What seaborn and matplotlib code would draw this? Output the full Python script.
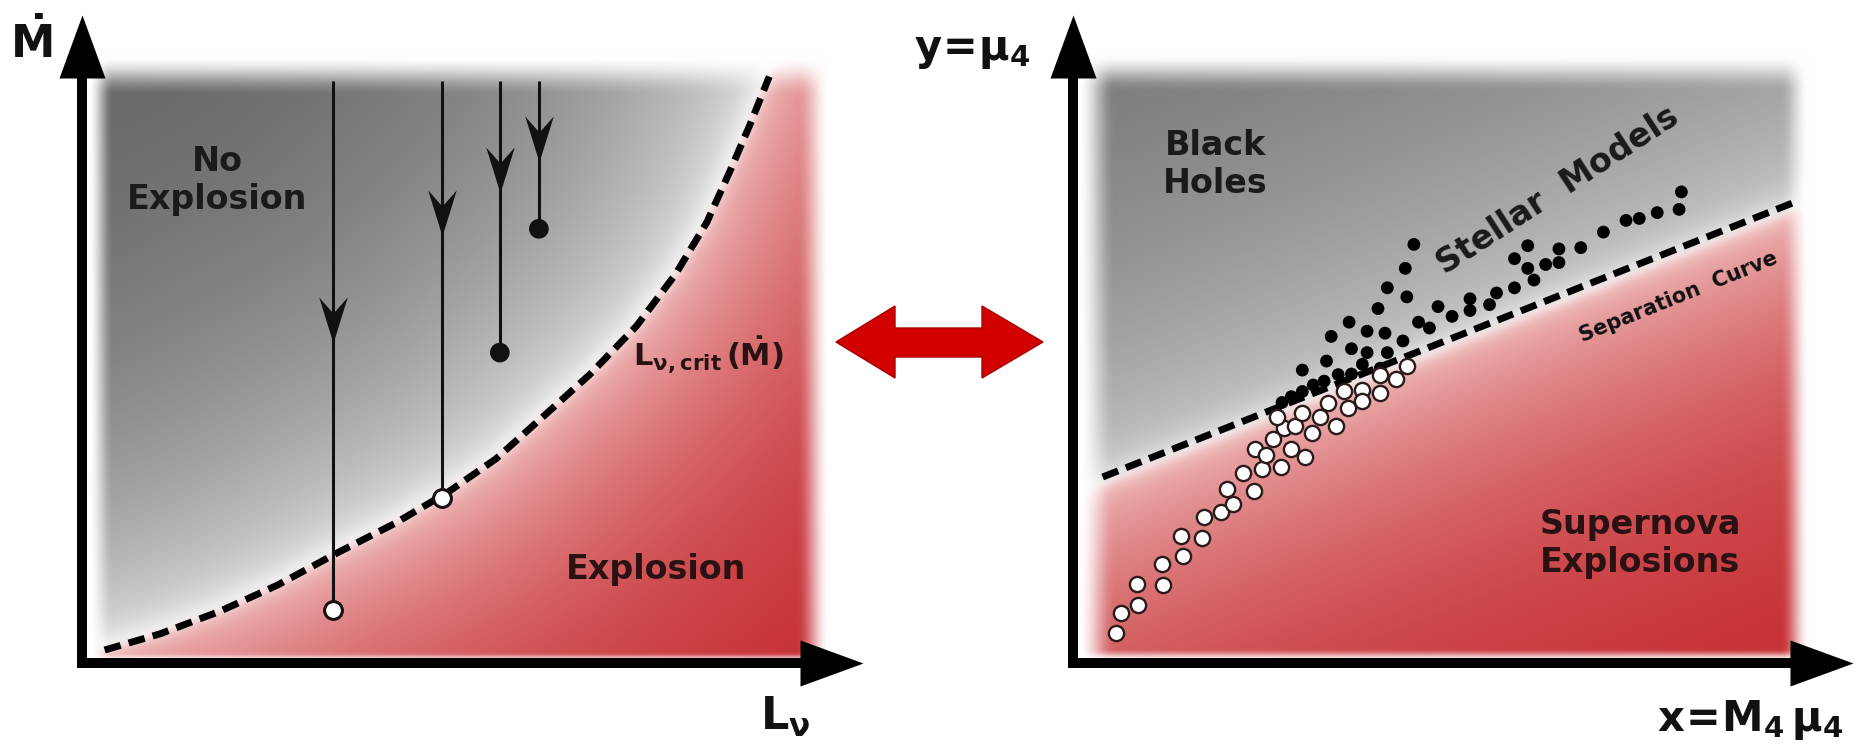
import numpy as np
import matplotlib
matplotlib.use("Agg")
import matplotlib.pyplot as plt
from matplotlib.path import Path
from matplotlib.markers import MarkerStyle
from matplotlib.patches import Polygon
import seaborn as sns

# ---------------- data ----------------
# left panel: critical neutrino luminosity curve L_crit(Mdot)
crit_L = [0.29, 1.00, 1.77, 2.50, 3.27, 4.00, 4.69, 5.30, 5.93, 6.50, 7.10, 7.60, 8.00, 8.30, 8.55, 8.80]
crit_Mdot = [0.20, 0.45, 0.80, 1.20, 1.70, 2.15, 2.64, 3.15, 3.83, 4.45, 5.20, 6.00, 6.80, 7.60, 8.30, 9.05]

# accretion tracks: luminosity, start / end Mdot, arrow tip, outcome
track_L = [3.22, 4.61, 5.35, 5.85]
track_start = [8.98, 8.98, 8.98, 8.98]
track_end = [0.82, 2.55, 4.79, 6.70]
track_arrow = [4.94, 6.59, 7.25, 7.73]
track_exploded = [True, True, False, False]

# right panel: separation line in the (x, y) = (M4 mu4, mu4) plane
sep_x = [0.38, 9.29]
sep_y = [2.87, 7.13]

# stellar models that form black holes
bh_x = [4.37, 4.26, 4.03, 4.28, 3.91, 3.54, 3.31, 3.77, 4.00, 3.57, 3.25, 2.94, 3.77, 4.03,
        4.23, 4.43, 4.68, 4.57, 4.86, 5.09, 5.09, 5.34, 5.43, 5.66, 5.66, 5.83, 5.91, 6.06,
        6.23, 6.23, 6.51, 6.80, 7.09, 7.26, 7.49, 7.77, 7.80, 5.83, 2.80, 2.94, 3.08, 3.22,
        3.40, 3.71, 3.57, 2.68, 3.94]
bh_y = [6.46, 6.09, 5.79, 5.65, 5.47, 5.26, 5.04, 5.12, 5.09, 4.85, 4.66, 4.52, 4.79, 4.79,
        4.97, 5.26, 5.50, 5.17, 5.35, 5.62, 5.44, 5.53, 5.71, 5.79, 6.24, 6.44, 5.91, 6.15,
        6.18, 6.39, 6.41, 6.65, 6.83, 6.86, 6.95, 7.00, 7.27, 6.09, 4.11, 4.19, 4.29, 4.35,
        4.45, 4.61, 4.46, 4.02, 4.55]

# stellar models that explode
sn_x = [0.55, 0.62, 0.83, 0.82, 1.16, 1.14, 1.41, 1.39, 1.65, 1.68, 1.90, 2.05, 1.98, 2.32,
        2.18, 2.42, 2.67, 2.33, 2.48, 2.80, 2.98, 2.57, 2.71, 2.85, 3.07, 3.17, 3.37, 2.94,
        3.27, 3.53, 3.48, 3.71, 3.94, 3.94, 4.14, 4.28, 2.62, 3.71]
sn_y = [0.47, 0.77, 0.89, 1.22, 1.20, 1.53, 1.65, 1.96, 1.93, 2.26, 2.33, 2.46, 2.69, 2.66,
        2.93, 2.99, 3.02, 3.31, 3.21, 3.31, 3.18, 3.46, 3.62, 3.66, 3.55, 3.79, 3.66, 3.86,
        4.02, 3.93, 4.20, 4.21, 4.17, 4.44, 4.38, 4.58, 3.79, 4.05]

# ---------------- layout (figure pixels) ----------------
W, H = 1858, 747
PANEL_TOP, PANEL_BOTTOM = 15, 663
LEFT_X0, LEFT_X1 = 82, 863
RIGHT_X0, RIGHT_X1 = 1073, 1853

sns.set_style("white")
plt.rcParams["font.family"] = ["DejaVu Sans"]
plt.rcParams["mathtext.fontset"] = "dejavusans"

fig = plt.figure(figsize=(W / 100, H / 100), dpi=100)


def panel(x0, x1):
    ax = fig.add_axes([x0 / W, (H - PANEL_BOTTOM) / H, (x1 - x0) / W,
                       (PANEL_BOTTOM - PANEL_TOP) / H])
    ax.set_axis_off()
    return ax


axL = panel(LEFT_X0, LEFT_X1)
axR = panel(RIGHT_X0, RIGHT_X1)


# ---------------- soft background shading ----------------
def smooth(t):
    t = np.clip(t, 0, 1)
    return t * t * (3 - 2 * t)


def dense_polyline(xs, ys, sx, sy, step=3.0):
    px, py = np.asarray(xs) * sx, np.asarray(ys) * sy
    ox, oy = [], []
    for i in range(len(px) - 1):
        n = max(2, int(np.hypot(px[i + 1] - px[i], py[i + 1] - py[i]) / step))
        t = np.linspace(0, 1, n, endpoint=False)
        ox.append(px[i] + t * (px[i + 1] - px[i]))
        oy.append(py[i] + t * (py[i + 1] - py[i]))
    ox.append([px[-1]])
    oy.append([py[-1]])
    return np.concatenate(ox), np.concatenate(oy)


def blur(img, sigma):
    r = int(3 * sigma) + 1
    k = np.exp(-0.5 * (np.arange(-r, r + 1) / sigma) ** 2)
    k /= k.sum()
    pad = np.pad(img, ((r, r), (r, r), (0, 0)), mode="edge")
    ny, nx = img.shape[:2]
    tmp = sum(k[i] * pad[:, i:i + nx] for i in range(len(k)))
    return sum(k[i] * tmp[i:i + ny] for i in range(len(k)))


def shading(ax, bx, by, sx, sy, g_far, g_near, g_len, r_len, env_box):
    nx, ny = 320, 260
    X, Y = np.meshgrid(np.linspace(0, 10, nx), np.linspace(0, 10, ny))
    PX, PY = X * sx, Y * sy
    qx, qy = dense_polyline(bx, by, sx, sy)
    d2 = np.full(PX.shape, np.inf)
    for a, b in zip(qx, qy):
        d2 = np.minimum(d2, (PX - a) ** 2 + (PY - b) ** 2)
    d = np.sqrt(d2)
    above = Y > np.interp(X, bx, by)

    g = g_far + (g_near - g_far) * np.exp(-d / g_len)
    g = g + (1 - g) * 0.95 * np.exp(-d / 12.0)
    gray = np.stack([g, g, g], axis=-1)

    t = (1 - np.exp(-d / r_len))[..., None]
    pink = np.array([0.93, 0.70, 0.70])
    deep = np.array([0.76, 0.13, 0.15])
    red = pink + (deep - pink) * t
    red = red + (1 - red) * 0.5 * np.exp(-d / 6.0)[..., None]

    rgb = np.where(above[..., None], gray, red)
    rgb = blur(rgb, 1.6)

    x0, w0, x1, w1, y1, wy1, y0, wy0 = env_box
    env = (smooth((PX - x0) / w0) * smooth((x1 - PX) / w1)
           * smooth((y1 - PY) / wy1) * smooth((PY - y0) / wy0))
    rgb = 1 - env[..., None] * (1 - rgb)
    ax.imshow(np.clip(rgb, 0, 1), extent=(0, 10, 0, 10), origin="lower",
              aspect="auto", interpolation="bilinear", zorder=0)


sxL = (LEFT_X1 - LEFT_X0) / 10
sxR = (RIGHT_X1 - RIGHT_X0) / 10
sy = (PANEL_BOTTOM - PANEL_TOP) / 10

# left: boundary follows the critical curve, extended past the frame
bxL = [-1.0] + crit_L + [9.6]
byL = [-0.15] + crit_Mdot + [13.0]
shading(axL, bxL, byL, sxL, sy, g_far=0.34, g_near=0.86, g_len=260, r_len=170,
        env_box=(6, 24, 748, 32, 608, 40, 1, 8))

# right: boundary just below the separation line
slope = (sep_y[1] - sep_y[0]) / (sep_x[1] - sep_x[0])
bxR = [-1.0, 11.0]
byR = [sep_y[0] + slope * (-1.0 - sep_x[0]) - 0.12, sep_y[0] + slope * (11.0 - sep_x[0]) - 0.12]
shading(axR, bxR, byR, sxR, sy, g_far=0.38, g_near=0.78, g_len=300, r_len=190,
        env_box=(5, 36, 737, 28, 610, 38, 1, 12))

# ---------------- axes with arrowheads ----------------
up_head = MarkerStyle(Path([(0, 0), (0.365, -1), (-0.365, -1), (0, 0)],
                           [Path.MOVETO, Path.LINETO, Path.LINETO, Path.CLOSEPOLY]))
right_head = MarkerStyle(Path([(0, 0), (-1, 0.365), (-1, -0.365), (0, 0)],
                              [Path.MOVETO, Path.LINETO, Path.LINETO, Path.CLOSEPOLY]))
HEAD_PX = 63

for ax, sx in ((axL, sxL), (axR, sxR)):
    ax.plot([0, 0], [0, 10 - HEAD_PX / sy], color="black", lw=7.2,
            solid_capstyle="projecting", clip_on=False, zorder=5)
    ax.plot([0, 10 - HEAD_PX / sx], [0, 0], color="black", lw=7.2,
            solid_capstyle="projecting", clip_on=False, zorder=5)
    ax.plot([0], [10], marker=up_head, ms=2 * HEAD_PX * 0.72, color="black",
            mew=0, clip_on=False, zorder=6)
    ax.plot([10], [0], marker=right_head, ms=2 * HEAD_PX * 0.72, color="black",
            mew=0, clip_on=False, zorder=6)
    ax.set_xlim(0, 10)
    ax.set_ylim(0, 10)

# ---------------- left panel content ----------------
sns.lineplot(x=crit_L, y=crit_Mdot, sort=False, ax=axL, color="black", lw=5,
             linestyle=(0, (2.4, 1.2)), zorder=3)

axL.vlines(track_L, track_end, track_start, color="#111111", lw=2.2, zorder=4)
stealth = MarkerStyle(Path([(0, 0), (0.62, 2), (0, 1.3), (-0.62, 2), (0, 0)],
                           [Path.MOVETO, Path.LINETO, Path.LINETO, Path.LINETO, Path.CLOSEPOLY]))
for lx, tip in zip(track_L, track_arrow):
    axL.plot([lx], [tip], marker=stealth, ms=2 * 46 * 0.72, color="#111111", mew=0, zorder=5)

ex_L = [l for l, e in zip(track_L, track_exploded) if e]
ex_M = [m for m, e in zip(track_end, track_exploded) if e]
fail_L = [l for l, e in zip(track_L, track_exploded) if not e]
fail_M = [m for m, e in zip(track_end, track_exploded) if not e]
sns.scatterplot(x=fail_L, y=fail_M, ax=axL, color="#111111", s=200, edgecolor="none", zorder=6)
sns.scatterplot(x=ex_L, y=ex_M, ax=axL, facecolor="white", edgecolor="#1a1010", s=165,
                linewidth=2.2, zorder=6)

TXT = "#1a1a1a"
FW = "bold"
axL.text(1.73, 7.44, "No\nExplosion", fontsize=24, fontweight=FW, ha="center", va="center",
         color=TXT, zorder=7)
axL.text(7.35, 1.44, "Explosion", fontsize=24, fontweight=FW, ha="center", va="center",
         color="#2a1212", zorder=7)
axL.text(8.02, 4.75, r"$\mathbf{L_{\nu,crit}\,(\dot{M})}$", fontsize=22,
         ha="center", va="center", color="#2a1212", zorder=7)

# ---------------- right panel content ----------------
sns.lineplot(x=sep_x, y=sep_y, sort=False, ax=axR, color="black", lw=5,
             linestyle=(0, (2.4, 1.2)), zorder=3)
sns.scatterplot(x=bh_x, y=bh_y, ax=axR, color="black", s=85, edgecolor="none", zorder=5)
sns.scatterplot(x=sn_x, y=sn_y, ax=axR, facecolor="white", edgecolor="#2a1a1a", s=120,
                linewidth=1.7, zorder=5)

axR.text(1.83, 7.69, "Black\nHoles", fontsize=24, fontweight=FW, ha="center", va="center",
         color=TXT, zorder=7)
axR.text(7.27, 1.84, "Supernova\nExplosions", fontsize=24, fontweight=FW, ha="center",
         va="center", color="#2a1212", zorder=7)
axR.text(6.21, 7.30, "Stellar  Models", fontsize=24, fontweight=FW, ha="center", va="center",
         rotation=33, rotation_mode="anchor", color=TXT, zorder=7)
axR.text(7.76, 5.65, "Separation  Curve", fontsize=15, fontweight=FW, ha="center",
         va="center", rotation=22, rotation_mode="anchor", color="#111111", zorder=7)

# ---------------- axis labels ----------------
def fig_text(px, py, s, size):
    fig.text(px / W, 1 - py / H, s, fontsize=size, ha="center", va="center",
             color="#111111")


fig_text(31, 43, r"$\mathbf{\dot{M}}$", 32)
fig_text(785, 717, r"$\mathbf{L_{\nu}}$", 32)
fig_text(972, 50, r"$\mathbf{y\!=\!μ_{4}}$", 30)
fig_text(1750, 720, r"$\mathbf{x\!=\!M_{4}\,μ_{4}}$", 30)

# ---------------- red double arrow linking the two panels ----------------
arrow_px = [(836, 342), (895, 306), (895, 328), (982, 328), (982, 306), (1043, 342),
            (982, 378), (982, 357), (895, 357), (895, 378)]
fig.patches.append(Polygon([(x / W, 1 - y / H) for x, y in arrow_px], closed=True,
                           transform=fig.transFigure, facecolor="#d30000",
                           edgecolor="#a80000", lw=1.0, zorder=10))

fig.savefig("out.png", dpi=100)
